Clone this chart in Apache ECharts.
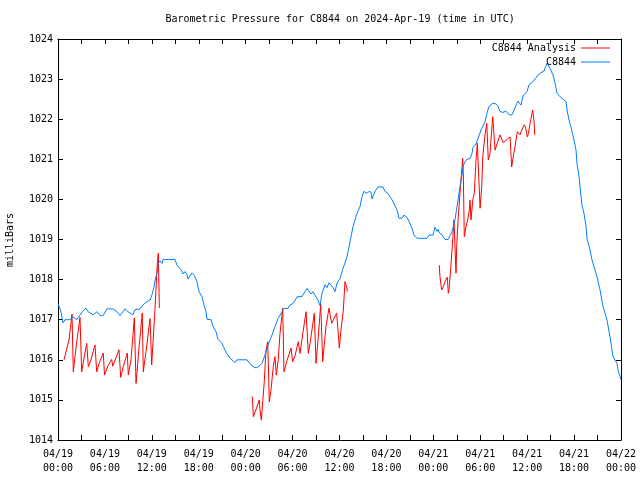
<!DOCTYPE html>
<html>
<head>
<meta charset="utf-8">
<script src="https://cdn.jsdelivr.net/npm/echarts@6/dist/echarts.min.js"></script>
<style>html,body{margin:0;padding:0;background:#fff}#c{width:640px;height:480px}</style>
</head>
<body>
<div id="c"></div>
<script>
// hours after 2024-04-19 00:00 UTC
const stationHours = [0.00,0.38,0.64,0.90,1.53,1.92,2.43,2.56,3.20,3.58,3.84,4.48,4.99,5.37,5.76,6.27,7.03,7.55,7.93,8.57,8.95,9.59,9.85,10.49,10.87,11.38,11.77,12.02,12.28,12.41,12.66,12.79,13.04,13.30,13.43,14.96,15.22,15.60,15.86,15.99,16.24,16.50,16.63,17.14,17.39,17.78,18.03,18.42,18.67,18.93,19.06,19.57,19.82,20.21,20.46,20.97,21.36,21.61,22.00,22.25,22.64,22.89,24.17,24.55,25.19,25.58,26.09,26.47,26.86,27.37,27.75,28.14,28.65,28.90,29.41,29.67,30.05,30.57,31.21,31.59,31.84,31.97,32.36,32.61,33.00,33.25,33.51,33.76,34.15,34.40,34.66,35.17,35.43,35.68,36.07,36.45,36.96,37.34,37.73,38.24,38.62,38.88,39.13,39.52,39.77,40.03,40.16,40.54,40.92,41.56,41.82,42.20,42.59,42.97,43.35,43.61,43.99,44.25,44.63,44.89,45.27,45.53,45.91,47.19,47.45,47.96,48.21,48.47,48.60,48.85,49.11,49.49,49.88,50.39,50.77,51.03,51.41,51.67,51.80,52.05,52.31,52.69,52.95,53.07,53.46,53.71,54.10,54.35,54.61,54.86,55.12,55.63,56.02,56.27,56.53,56.91,57.29,57.68,58.06,58.32,58.70,58.83,59.21,59.47,59.72,59.98,60.24,60.49,60.75,61.13,61.39,61.77,62.15,62.54,62.92,63.31,63.56,63.82,64.20,64.58,64.97,65.10,65.35,65.61,65.99,66.25,66.37,66.63,66.89,67.01,67.27,67.53,67.65,68.04,68.29,68.68,68.93,69.32,69.70,70.21,70.59,70.98,71.49,71.62,72.00];
const stationPressure = [1017.40,1017.20,1016.92,1017.00,1017.00,1017.07,1017.00,1017.05,1017.22,1017.29,1017.20,1017.12,1017.20,1017.10,1017.10,1017.27,1017.27,1017.20,1017.10,1017.27,1017.20,1017.12,1017.25,1017.27,1017.37,1017.45,1017.49,1017.62,1017.82,1017.99,1018.16,1018.40,1018.47,1018.40,1018.50,1018.50,1018.36,1018.28,1018.20,1018.14,1018.20,1018.12,1018.01,1018.17,1018.12,1017.95,1017.70,1017.57,1017.37,1017.20,1017.01,1017.00,1016.84,1016.70,1016.51,1016.41,1016.24,1016.15,1016.04,1016.08,1015.93,1016.00,1016.00,1015.90,1015.80,1015.82,1015.91,1016.12,1016.37,1016.62,1016.83,1017.03,1017.20,1017.28,1017.28,1017.37,1017.40,1017.57,1017.58,1017.70,1017.78,1017.75,1017.64,1017.70,1017.57,1017.49,1017.35,1017.66,1017.87,1017.80,1017.92,1017.80,1017.70,1017.91,1018.03,1018.28,1018.57,1018.94,1019.32,1019.65,1019.82,1020.07,1020.20,1020.15,1020.20,1020.18,1020.01,1020.20,1020.31,1020.31,1020.20,1020.15,1020.03,1019.90,1019.74,1019.53,1019.53,1019.61,1019.55,1019.45,1019.28,1019.11,1019.03,1019.03,1019.11,1019.11,1019.31,1019.20,1019.25,1019.15,1019.12,1019.00,1019.00,1019.19,1019.49,1019.82,1020.32,1020.61,1020.82,1020.94,1021.00,1021.02,1021.15,1021.30,1021.38,1021.52,1021.73,1021.83,1021.94,1022.15,1022.32,1022.40,1022.38,1022.33,1022.19,1022.17,1022.20,1022.11,1022.11,1022.23,1022.40,1022.45,1022.35,1022.58,1022.62,1022.69,1022.86,1022.88,1022.94,1023.03,1023.10,1023.16,1023.20,1023.40,1023.27,1023.10,1022.90,1022.65,1022.56,1022.50,1022.44,1022.23,1021.98,1021.80,1021.48,1021.23,1020.90,1020.57,1020.07,1019.86,1019.65,1019.32,1019.03,1018.74,1018.49,1018.24,1018.07,1017.74,1017.33,1016.99,1016.58,1016.08,1015.91,1015.75,1015.50];

const analysis1Hours = [0.77,1.02,1.41,1.79,1.96,2.30,2.81,3.03,3.20,3.67,3.88,4.22,4.73,4.95,5.24,5.79,5.95,6.39,6.87,7.00,7.80,8.02,8.31,8.86,8.99,9.34,9.76,9.98,10.36,10.78,10.91,11.25,11.77,11.98,12.41,12.70,12.83,12.96];
const analysis1Pressure = [1016.00,1016.00,1016.50,1017.14,1015.70,1016.30,1017.06,1015.70,1015.90,1016.41,1015.83,1016.00,1016.37,1015.70,1015.90,1016.17,1015.62,1015.85,1016.01,1015.84,1016.25,1015.56,1015.80,1016.17,1015.62,1016.00,1017.04,1015.41,1016.30,1017.17,1015.70,1016.20,1017.03,1015.87,1017.29,1018.41,1018.66,1017.29];

const analysis2Hours = [24.85,24.98,25.32,25.74,25.83,26.00,26.18,26.38,26.60,26.82,27.02,27.24,27.53,27.75,27.92,28.17,28.39,28.74,28.90,29.24,29.80,30.01,30.31,30.73,30.95,31.37,31.72,32.01,32.23,32.78,33.00,33.29,33.60,33.85,34.27,34.66,35.00,35.64,35.98,36.16,36.49,36.70,36.92,37.00];
const analysis2Pressure = [1015.08,1014.58,1014.76,1015.00,1014.75,1014.50,1014.95,1015.45,1016.24,1016.45,1014.95,1015.25,1015.83,1016.08,1015.62,1016.00,1016.66,1017.29,1015.70,1015.95,1016.29,1015.95,1016.10,1016.45,1016.16,1016.74,1017.20,1016.16,1016.41,1017.16,1015.91,1016.58,1017.40,1015.95,1016.83,1017.29,1016.91,1017.16,1016.29,1016.70,1017.24,1017.95,1017.82,1017.70];

const analysis3Hours = [48.76,48.85,49.07,49.28,49.49,49.79,49.91,50.00,50.22,50.43,50.64,50.90,50.99,51.19,51.41,51.63,51.75,51.83,51.96,52.18,52.40,52.60,52.69,52.82,53.04,53.24,53.46,53.63,53.76,53.98,54.19,54.32,54.61,54.83,55.03,55.25,55.47,55.60,55.89,56.53,56.75,56.95,57.39,57.81,58.02,58.22,58.44,58.74,58.86,59.08,59.30,59.63,59.79,60.02,60.17,60.37,60.71,60.79,60.88,60.96];
const analysis3Pressure = [1018.36,1018.07,1017.74,1017.82,1017.95,1018.06,1017.66,1017.74,1018.28,1018.86,1019.49,1018.16,1018.82,1019.57,1020.15,1020.73,1021.02,1020.65,1019.07,1019.32,1019.49,1019.73,1019.98,1019.49,1019.98,1020.15,1020.98,1021.40,1021.44,1019.78,1020.32,1021.07,1021.61,1021.90,1020.98,1021.15,1021.73,1022.06,1021.23,1021.61,1021.65,1021.41,1021.49,1021.56,1020.81,1021.07,1021.30,1021.69,1021.73,1021.61,1021.73,1021.86,1021.80,1021.56,1021.65,1021.90,1022.23,1022.27,1021.94,1021.61];

const xTickLabels = ['04/19\n00:00','04/19\n06:00','04/19\n12:00','04/19\n18:00','04/20\n00:00','04/20\n06:00','04/20\n12:00','04/20\n18:00','04/21\n00:00','04/21\n06:00','04/21\n12:00','04/21\n18:00','04/22\n00:00'];
const yTickLabels = ['1014','1015','1016','1017','1018','1019','1020','1021','1022','1023','1024'];

const titleText = 'Barometric Pressure for C8844 on 2024-Apr-19 (time in UTC)';
const yTitle = 'milliBars';
const analysisName = 'C8844 Analysis';
const stationName = 'C8844';

function zip(a, b) { return a.map((v, i) => [v, b[i]]); }

const FONT = 'DejaVu Sans Mono';
const chart = echarts.init(document.getElementById('c'), null, { renderer: 'canvas' });

const tickCommon = { show: true, inside: true, length: 5, lineStyle: { color: '#000', width: 1 } };
const xCommon = { type: 'value', min: 0, max: 72, interval: 3, splitLine: { show: false },
  axisLine: { show: true, onZero: false, lineStyle: { color: '#000', width: 1 } }, axisTick: tickCommon };
const yCommon = { type: 'value', min: 1014, max: 1024, interval: 1, splitLine: { show: false },
  axisLine: { show: true, onZero: false, lineStyle: { color: '#000', width: 1 } }, axisTick: tickCommon };

const lineStyleRed = { color: '#ff0000', width: 1 };
const lineStyleBlue = { color: '#0080ff', width: 1 };

chart.setOption({
  animation: false,
  backgroundColor: '#fff',
  textStyle: { fontFamily: FONT },
  grid: { left: 58, right: 19, top: 39, bottom: 40 },
  graphic: [
    { type: 'text', left: 339.5 - 174, top: 14, style: { text: titleText, font: '10px "DejaVu Sans Mono"', fill: '#000' } },
    { type: 'text', x: 10, y: 240, rotation: Math.PI / 2, style: { text: yTitle, font: '10px "DejaVu Sans Mono"', fill: '#000', align: 'center', verticalAlign: 'middle' } }
  ],
  legend: {
    orient: 'vertical', right: 25, top: 37, align: 'right', itemWidth: 29, itemHeight: 1, itemGap: 2,
    icon: 'rect',
    textStyle: { fontFamily: FONT, fontSize: 10, color: '#000', lineHeight: 12 },
    data: [analysisName, stationName]
  },
  xAxis: [
    Object.assign({}, xCommon, { position: 'bottom',
      axisLabel: { margin: 7, fontFamily: FONT, fontSize: 10, color: '#000', lineHeight: 14,
        formatter: v => (v % 6 === 0 ? xTickLabels[v / 6] : '') } }),
    Object.assign({}, xCommon, { position: 'top', axisLabel: { show: false } })
  ],
  yAxis: [
    Object.assign({}, yCommon, { position: 'left',
      axisLabel: { margin: 5, fontFamily: FONT, fontSize: 10, color: '#000',
        formatter: v => yTickLabels[Math.round(v - 1014)] } }),
    Object.assign({}, yCommon, { position: 'right', axisLabel: { show: false } })
  ],
  series: [
    { name: analysisName, type: 'line', data: zip(analysis1Hours, analysis1Pressure), showSymbol: false, lineStyle: lineStyleRed, itemStyle: { color: '#ff0000' } },
    { name: analysisName, type: 'line', data: zip(analysis2Hours, analysis2Pressure), showSymbol: false, lineStyle: lineStyleRed, itemStyle: { color: '#ff0000' } },
    { name: analysisName, type: 'line', data: zip(analysis3Hours, analysis3Pressure), showSymbol: false, lineStyle: lineStyleRed, itemStyle: { color: '#ff0000' } },
    { name: stationName, type: 'line', data: zip(stationHours, stationPressure), showSymbol: false, lineStyle: lineStyleBlue, itemStyle: { color: '#0080ff' } }
  ]
});
</script>
</body>
</html>
